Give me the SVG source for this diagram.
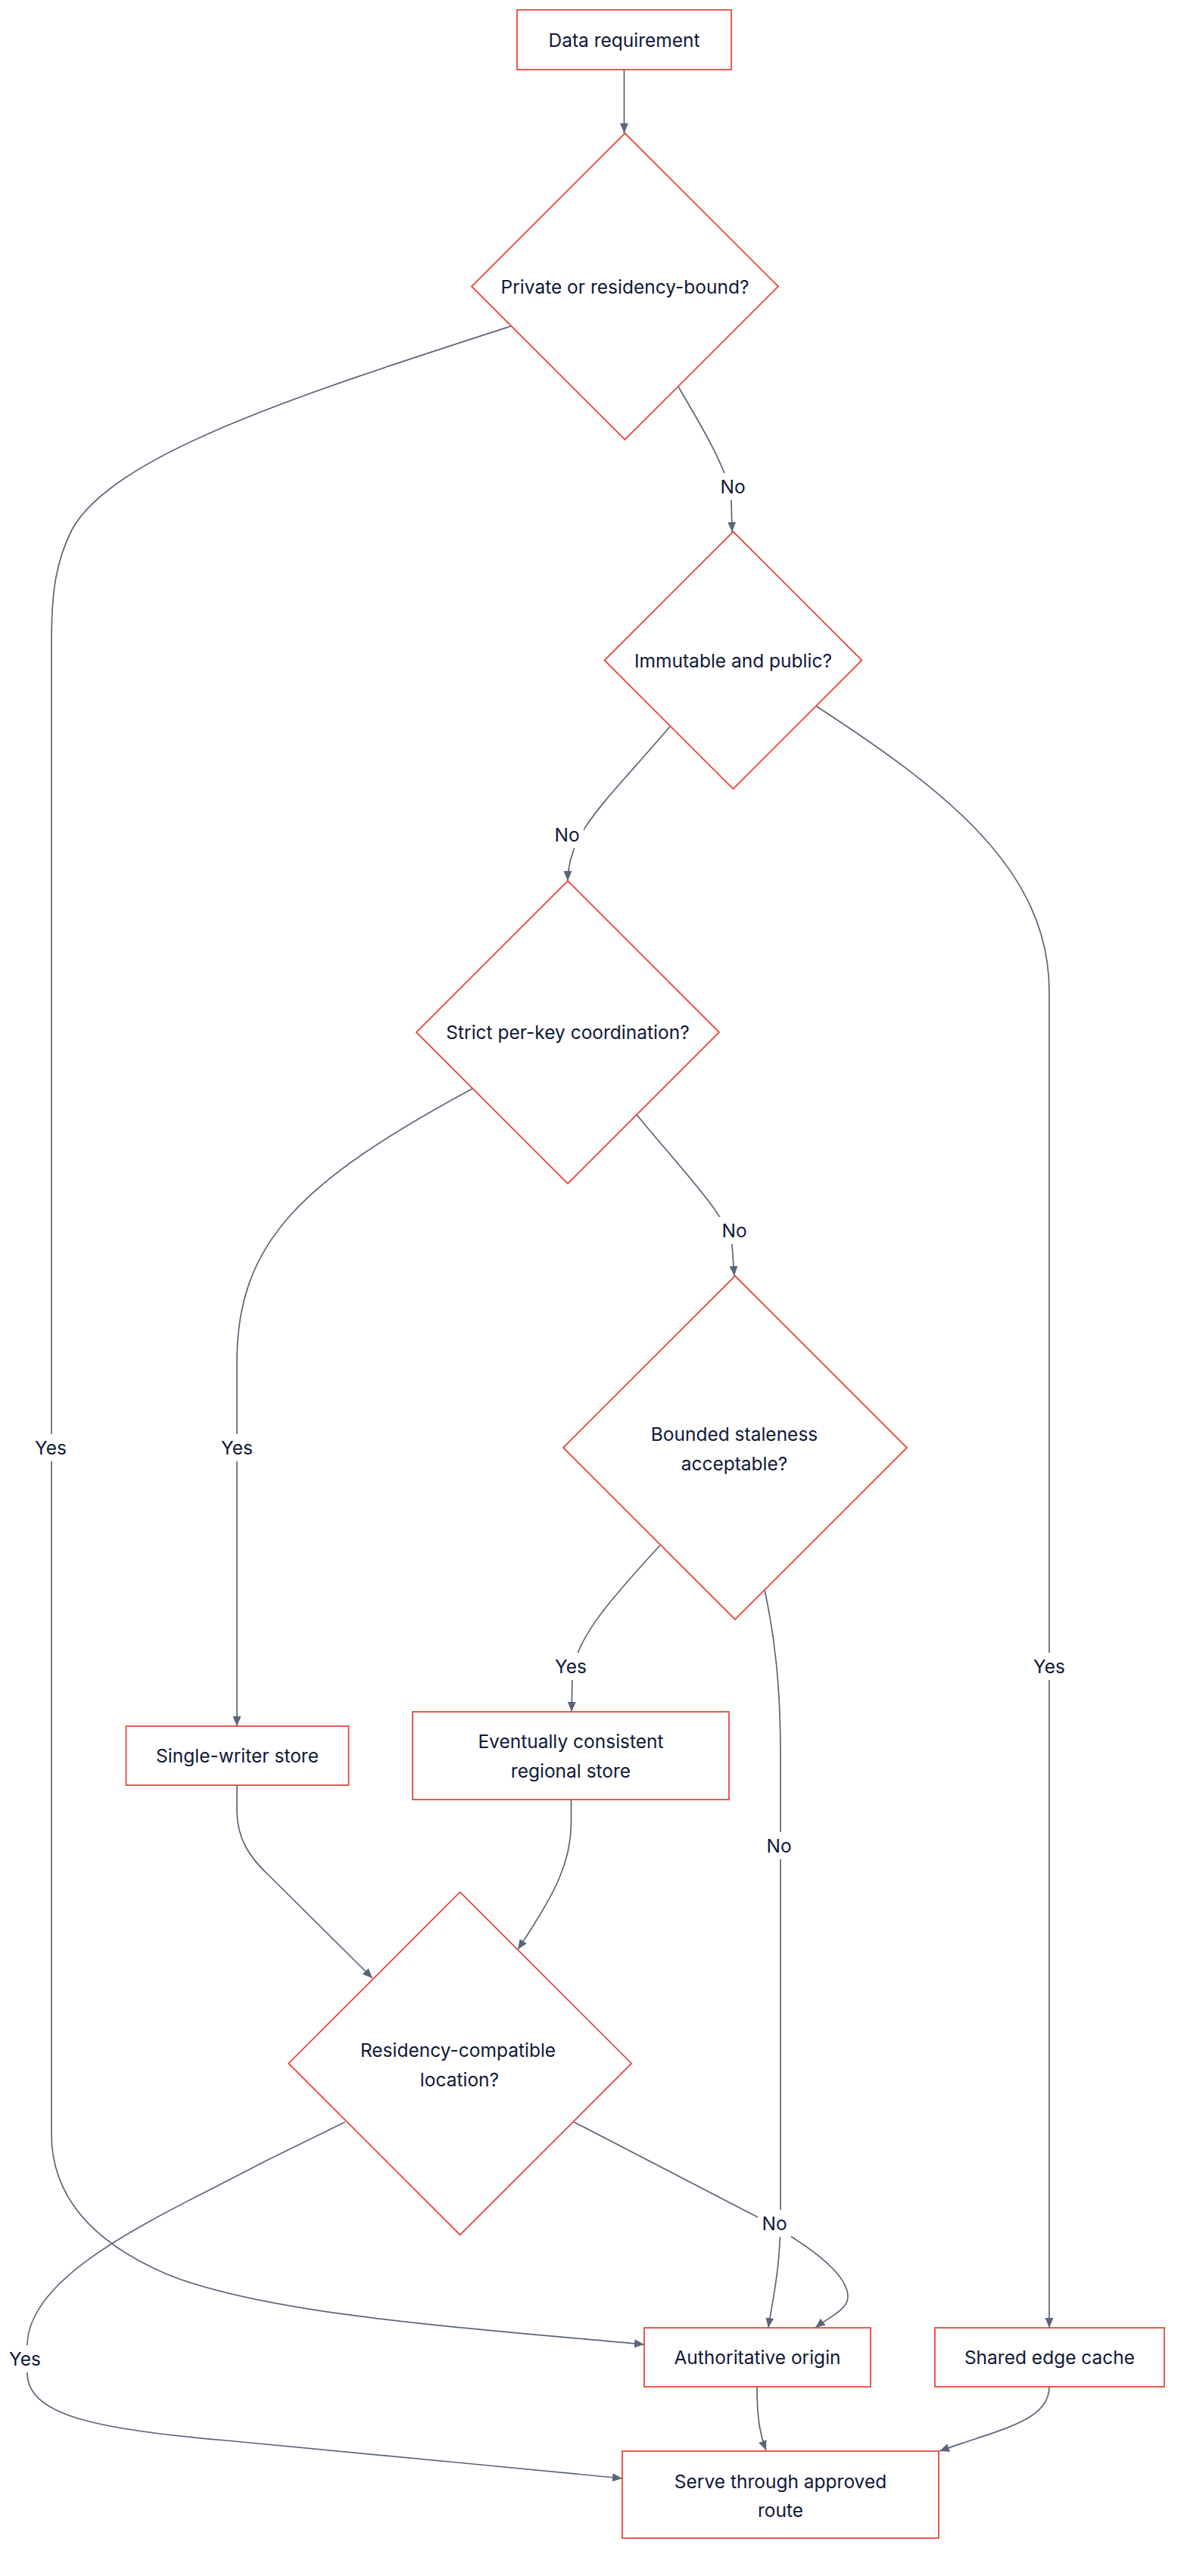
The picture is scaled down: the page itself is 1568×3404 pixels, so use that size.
<svg xmlns="http://www.w3.org/2000/svg" width="1568" height="3404" viewBox="0 0 1568 3404">
<defs>
<marker id="arr" markerUnits="userSpaceOnUse" markerWidth="14" markerHeight="12" refX="13" refY="5.5" orient="auto">
<path d="M0,0 L13,5.5 L0,11 z" fill="#5b6579"/>
</marker>
<style>
.node rect, .node polygon { fill: #ffffff; stroke: #e8473d; stroke-width: 1.8; }
.node text, .lbl text { font-family: Inter, "Noto Sans", "Liberation Sans", sans-serif; font-size: 24.5px; fill: #0f1838; text-anchor: middle; dominant-baseline: central; }
.edges path { fill: none; stroke: #5b6579; stroke-width: 1.7; marker-end: url(#arr); }
.lbl rect { fill: #ffffff; }
</style>
</defs>
<rect width="1568" height="3404" fill="#ffffff"/>

<g id="edges" class="edges">
<path id="e-A-B" d="M824.5,92 L824.5,176"/>
<path id="e-B-O" d="M675,431 C 400,520 150,600 95,700 C 72,745 68,790 68,850 L68,2820 C68,2900 120,2962 220,3005 C 350,3058 600,3075 851,3098"/>
<path id="e-B-C" d="M896,511 C 925,560 964,625 966,660 L967,703"/>
<path id="e-C-E" d="M1078,933 C 1250,1045 1386,1150 1386,1310 L1386,3076"/>
<path id="e-C-D" d="M885,960 C 800,1060 750,1100 750,1164"/>
<path id="e-D-S" d="M625,1438 C 400,1560 313,1640 313,1800 L313,2281"/>
<path id="e-D-F" d="M841,1473 C 900,1545 962,1608 967,1645 L970,1686"/>
<path id="e-F-R" d="M872,2042 C 800,2120 758,2170 756,2215 L755,2262"/>
<path id="e-F-O" d="M1010,2101 C 1024,2165 1031,2230 1031,2320 L1031,2930 C1031,3000 1020,3040 1015,3076"/>
<path id="e-S-G" d="M313,2359 L313,2393 C 313,2430 330,2455 357,2480 L492,2614"/>
<path id="e-R-G" d="M754.5,2378 L754.5,2410 C 754,2460 735,2500 684,2576"/>
<path id="e-G-Z" d="M456,2804 L350,2856 C 220,2925 40,3000 36,3097 L36,3135 C 36,3190 120,3210 300,3225 C 450,3240 650,3258 822,3275"/>
<path id="e-G-O" d="M758,2804 L1007,2933 C 1070,2968 1120,3005 1120,3035 C 1120,3052 1095,3062 1077,3076"/>
<path id="e-O-Z" d="M1000,3154 C 1000,3200 1005,3220 1012,3238"/>
<path id="e-E-Z" d="M1386,3154 C 1386,3200 1320,3210 1241,3239"/>
</g>

<g id="edge-labels">
<g class="lbl"><rect x="946" y="625" width="44" height="36"/><text x="968" y="643">No</text></g>
<g class="lbl"><rect x="727" y="1085" width="44" height="36"/><text x="749" y="1103">No</text></g>
<g class="lbl"><rect x="948" y="1608" width="44" height="36"/><text x="970" y="1626">No</text></g>
<g class="lbl"><rect x="41" y="1895" width="52" height="36"/><text x="67" y="1913">Yes</text></g>
<g class="lbl"><rect x="287" y="1895" width="52" height="36"/><text x="313" y="1913">Yes</text></g>
<g class="lbl"><rect x="1360" y="2184" width="52" height="36"/><text x="1386" y="2202">Yes</text></g>
<g class="lbl"><rect x="728" y="2184" width="52" height="36"/><text x="754" y="2202">Yes</text></g>
<g class="lbl"><rect x="1007" y="2421" width="44" height="36"/><text x="1029" y="2439">No</text></g>
<g class="lbl"><rect x="1001" y="2920" width="44" height="36"/><text x="1023" y="2938">No</text></g>
<g class="lbl"><rect x="7" y="3099" width="52" height="36"/><text x="33" y="3117">Yes</text></g>
</g>

<g id="n-A" class="node"><rect x="683" y="13" width="283" height="79"/><text x="824.5" y="52.5">Data requirement</text></g>
<g id="n-B" class="node"><polygon points="825.5,176 1028,378.5 825.5,581 623,378.5"/><text x="825.5" y="378.5">Private or residency-bound?</text></g>
<g id="n-C" class="node"><polygon points="968.5,702.5 1138.5,872.5 968.5,1042.5 798.5,872.5"/><text x="968.5" y="872.5">Immutable and public?</text></g>
<g id="n-D" class="node"><polygon points="750,1164 950,1364 750,1564 550,1364"/><text x="750" y="1364">Strict per-key coordination?</text></g>
<g id="n-F" class="node"><polygon points="971,1686 1198,1913 971,2140 744,1913"/><text x="970" y="1895">Bounded staleness</text><text x="970" y="1934">acceptable?</text></g>
<g id="n-S" class="node"><rect x="166.5" y="2281" width="294" height="78"/><text x="313.5" y="2320">Single-writer store</text></g>
<g id="n-R" class="node"><rect x="545" y="2262" width="418" height="116"/><text x="754" y="2301">Eventually consistent</text><text x="754" y="2340">regional store</text></g>
<g id="n-G" class="node"><polygon points="607.7,2500.2 834.2,2726.7 607.7,2953.2 381.2,2726.7"/><text x="605" y="2709">Residency-compatible</text><text x="607" y="2748">location?</text></g>
<g id="n-O" class="node"><rect x="851" y="3076" width="299" height="78"/><text x="1000.5" y="3115">Authoritative origin</text></g>
<g id="n-E" class="node"><rect x="1235" y="3076" width="303" height="78"/><text x="1386.5" y="3115">Shared edge cache</text></g>
<g id="n-Z" class="node"><rect x="822" y="3239" width="418" height="115"/><text x="1031" y="3279">Serve through approved</text><text x="1031" y="3317">route</text></g>
</svg>
